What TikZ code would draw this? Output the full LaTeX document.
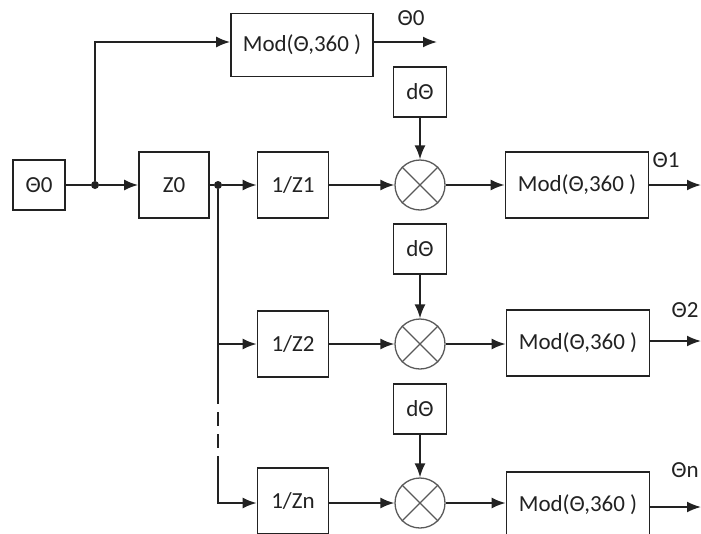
\documentclass[tikz,border=0pt]{standalone}
\usepackage{fontspec}
\setmainfont{Carlito}
\usetikzlibrary{arrows.meta,calc}
\definecolor{ink}{HTML}{222222}
\begin{document}
\begin{tikzpicture}[x=1pt,y=-1pt,
  blk/.style={draw=ink, line width=1.8pt, inner sep=0pt, text=ink, font=\fontsize{23}{26}\selectfont},
  mixer/.style={draw=ink!75, line width=1.3pt, circle, minimum size=50pt, inner sep=0pt},
  conn/.style={draw=ink, line width=1.8pt},
  arr/.style={conn, -{Latex[length=14pt,width=11pt]}},
  lbl/.style={text=ink, font=\fontsize{23}{26}\selectfont, inner sep=0pt},
  jdot/.style={circle, fill=ink, inner sep=0pt, minimum size=8pt}
]
\useasboundingbox (0,0) rectangle (701,533);
% nodes
\node[blk, minimum width=52pt, minimum height=50pt] (th0) at (39,185) {Θ0};
\node[blk, minimum width=70pt, minimum height=66pt] (z0) at (174,185) {Z0};
\node[blk, minimum width=142pt, minimum height=63pt] (modt) at (302,45) {Mod(Θ,360 )};
\node[blk, minimum width=71pt, minimum height=66pt] (z1) at (293,185) {1/Z1};
\node[blk, minimum width=71pt, minimum height=66pt] (z2) at (293,344) {1/Z2};
\node[blk, minimum width=71pt, minimum height=66pt] (zn) at (293,501) {1/Zn};
\node[blk, minimum width=53pt, minimum height=50pt] (d1) at (420,92) {dΘ};
\node[blk, minimum width=53pt, minimum height=50pt] (d2) at (420,249) {dΘ};
\node[blk, minimum width=53pt, minimum height=50pt] (d3) at (420,409) {dΘ};
\node[mixer] (m1) at (420,185) {};
\node[mixer] (m2) at (420,344) {};
\node[mixer] (m3) at (420,503) {};
\foreach \m in {m1,m2,m3}{
  \draw[draw=ink!75, line width=1.3pt] (\m.north east) -- (\m.south west);
  \draw[draw=ink!75, line width=1.3pt] (\m.north west) -- (\m.south east);
}
\node[blk, minimum width=143pt, minimum height=66pt] (mod1) at (577,185) {Mod(Θ,360 )};
\node[blk, minimum width=143pt, minimum height=66pt] (mod2) at (578,343) {Mod(Θ,360 )};
\node[blk, minimum width=143pt, minimum height=66pt] (modn) at (578,505) {Mod(Θ,360 )};
% labels
\node[lbl] (l0) at (411,18) {Θ0};
\node[lbl] (l1) at (666,160) {Θ1};
\node[lbl] (l2) at (685,310) {Θ2};
\node[lbl] (ln) at (685,470) {Θn};
% coordinates
\node[jdot] (j1) at (95,185) {};
\node[jdot] (j2) at (218,185) {};
\coordinate (o0) at (437,42);
\coordinate (o1) at (701,185);
\coordinate (o2) at (701,341);
\coordinate (on) at (701,507);
\coordinate (b2) at (218,344);
\coordinate (ds) at (218,390);
\coordinate (de) at (218,470);
% connectors
\draw[conn] (th0.east) -- (j1);
\draw[arr] (j1) -- (z0.west);
\draw[arr] (j1) |- ($(modt.west)+(0,-3)$);
\draw[arr] ($(modt.east)+(0,-3)$) -- (o0);
\draw[conn] (z0.east) -- (j2);
\draw[arr] (j2) -- (z1.west);
\draw[arr] (z1.east) -- (m1.west);
\draw[arr] (d1.south) -- (m1.north);
\draw[arr] (m1.east) -- (mod1.west);
\draw[arr] (mod1.east) -- (o1);
\draw[conn] (j2) -- (ds);
\draw[conn, dash pattern=on 14pt off 8pt] (ds) -- (de);
\draw[arr] (de) |- (zn.west |- m3.west);
\draw[arr] (b2) -- (z2.west);
\draw[arr] (z2.east) -- (m2.west);
\draw[arr] (d2.south) -- (m2.north);
\draw[arr] (m2.east) -- (mod2.west |- m2.east);
\draw[arr] (mod2.east |- o2) -- (o2);
\draw[arr] (zn.east |- m3.west) -- (m3.west);
\draw[arr] (d3.south) -- (m3.north);
\draw[arr] (m3.east) -- (modn.west |- m3.east);
\draw[arr] (modn.east |- on) -- (on);
\end{tikzpicture}
\end{document}
